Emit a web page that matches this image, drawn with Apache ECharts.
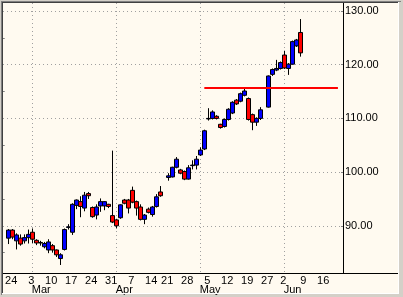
<!DOCTYPE html>
<html><head><meta charset="utf-8">
<script src="https://cdn.jsdelivr.net/npm/echarts@6/dist/echarts.min.js"></script>
<style>html,body{margin:0;padding:0;background:#d4d0c8;}#c{width:403px;height:297px;}</style>
</head><body><div id="c"></div>
<script>
// Trading days on the axis (2003), month-day
const tradingDays = [
 '02-20','02-21','02-24','02-25','02-26','02-27','02-28',
 '03-03','03-04','03-05','03-06','03-07','03-10','03-11','03-12','03-13','03-14',
 '03-17','03-18','03-19','03-20','03-21','03-24','03-25','03-26','03-27','03-28','03-31',
 '04-01','04-02','04-03','04-04','04-07','04-08','04-09','04-10','04-11',
 '04-14','04-15','04-16','04-17','04-21','04-22','04-23','04-24','04-25','04-28','04-29','04-30',
 '05-01','05-02','05-05','05-06','05-07','05-08','05-09','05-12','05-13','05-14','05-15','05-16',
 '05-19','05-20','05-21','05-22','05-23','05-27','05-28','05-29','05-30',
 '06-02','06-03','06-04','06-05','06-06','06-09','06-10','06-11','06-12','06-13',
 '06-16','06-17','06-18','06-19','06-20'
];
// Daily candles
const candleDays = [
 '02-21','02-24','02-25','02-26','02-27','02-28',
 '03-03','03-04','03-05','03-06','03-07','03-10','03-11','03-12','03-13','03-14',
 '03-17','03-18','03-19','03-20','03-21','03-24','03-25','03-26','03-27','03-28','03-31',
 '04-01','04-02','04-03','04-04','04-07','04-08','04-09','04-10','04-11',
 '04-14','04-15','04-16','04-21','04-22','04-23','04-24','04-25','04-28','04-29','04-30',
 '05-01','05-02','05-05','05-06','05-07','05-08','05-09','05-12','05-13','05-14','05-15','05-16',
 '05-19','05-20','05-21','05-22','05-27','05-28','05-29','05-30',
 '06-02','06-03','06-04','06-05','06-06'
];
const opens = [
 87.7,89.2,87.2,87.7,87.2,87.8,
 88.8,87.3,86.9,86.1,85.5,86.3,85.5,83.9,85.6,89.7,
 88.8,93.8,94.5,93.3,96.0,93.4,92.0,93.7,93.7,94.0,91.9,
 91.1,91.5,94.8,94.8,96.6,94.5,93.5,91.2,93.1,
 92.1,93.6,96.3,99.0,99.1,100.9,100.4,100.1,98.7,101.2,101.3,
 103.2,104.3,109.9,110.0,110.4,108.9,108.5,109.8,111.0,113.4,113.2,114.3,
 113.7,110.7,109.3,110.0,112.1,118.2,119.0,119.3,
 121.8,119.3,120.1,123.5,126.0
];
const closes = [
 89.2,87.9,88.3,86.6,87.8,88.4,
 87.5,86.8,86.8,86.7,87.0,85.5,84.6,84.6,89.3,89.8,
 94.0,94.8,93.6,95.7,95.6,91.7,93.5,94.5,94.5,93.6,90.7,
 90.0,93.9,94.2,93.3,94.4,93.3,91.2,92.0,92.5,
 93.5,95.4,95.6,99.3,100.9,102.4,99.8,98.7,100.8,101.3,102.4,
 104.1,107.7,110.0,111.2,110.0,108.3,109.8,111.7,113.0,112.7,114.6,115.1,
 109.8,109.3,110.0,111.6,117.9,119.1,119.3,120.4,
 119.4,120.1,124.3,124.6,122.2
];
const lows = [
 86.6,87.5,85.6,86.3,86.7,86.7,
 86.8,86.4,86.3,85.8,84.9,85.0,84.2,82.7,85.4,89.3,
 88.3,93.1,91.6,92.7,95.0,91.5,91.2,92.6,92.9,93.3,90.5,
 89.5,91.3,94.0,92.3,94.2,91.9,91.0,90.3,92.3,
 91.7,93.4,95.4,98.4,99.0,100.7,99.6,98.5,98.6,100.5,100.5,
 103.0,104.1,109.6,109.8,109.8,108.1,108.3,109.6,110.8,112.5,113.0,114.1,
 109.6,107.8,108.6,109.7,112.0,117.9,118.8,119.1,
 119.2,118.1,120.0,123.3,121.5
];
const highs = [
 89.4,89.4,88.6,88.4,88.4,89.3,
 89.5,87.5,87.2,87.0,87.5,86.6,85.6,84.9,89.5,90.3,
 94.2,94.9,95.5,96.3,96.3,93.6,94.0,95.1,94.6,94.1,104.0,
 91.3,94.0,95.0,95.0,97.3,94.7,94.0,92.2,93.4,
 93.7,95.9,97.4,99.8,101.0,102.8,100.6,100.3,101.3,102.2,103.0,
 104.6,107.9,111.9,111.5,110.6,109.0,110.0,111.9,113.2,113.6,114.8,115.6,
 113.9,110.9,110.2,112.1,118.0,119.3,120.9,120.6,
 122.6,120.3,124.5,124.8,128.5
];
// Horizontal resistance line
const resistanceLevel = 115.65;
const resistanceFrom = '05-01', resistanceFromOffset = 0.9;
const resistanceTo = '06-19', resistanceToOffset = 0.3;
// Axis labels
const weekLabelDays = ['02-24','03-03','03-10','03-17','03-24','03-31','04-07','04-14','04-21','04-28',
  '05-05','05-12','05-19','05-27','06-02','06-09','06-16'];
const monthStartDays = ['03-03','04-01','05-01','06-02'];
const monthNames = ['Mar','Apr','May','Jun'];
const yMajorTicks = [90,100,110,120,130];
const yMinorTicks = [85,95,105,115,125];

const idx = d => tradingDays.indexOf(d);
const candleData = candleDays.map((d,i)=>[idx(d), opens[i], closes[i], lows[i], highs[i]]);
const weekIdx = weekLabelDays.map(idx);
const monthIdx = monthStartDays.map(idx);
const xMin = -0.43, xMax = 84.57;
const yMin = 81.21, yMax = 131.49;
const font = {fontFamily:'Liberation Sans', fontSize:11, color:'#000'};
const gridColor = '#a0a0a0';

const chart = echarts.init(document.getElementById('c'));
chart.setOption({
  animation:false,
  backgroundColor:'#d4d0c8',
  grid:{left:3, right:60, top:3, bottom:24},
  xAxis:[{
    type:'value', min:xMin, max:xMax, position:'bottom',
    axisLine:{show:true, onZero:false, lineStyle:{color:'#000', width:1}},
    axisTick:{show:false, customValues:monthIdx},
    splitLine:{show:true, lineStyle:{color:gridColor, type:[1,3], width:1}},
    axisLabel:{customValues:weekIdx, margin:2, ...font, padding:[0,3,0,0],
      formatter:v=>String(parseInt(tradingDays[Math.round(v)].split('-')[1],10))}
  },{
    type:'value', min:xMin, max:xMax, position:'bottom',
    axisLine:{show:false}, axisTick:{show:false}, splitLine:{show:false},
    axisLabel:{customValues:monthIdx, margin:11, ...font, align:'left', padding:[0,0,0,-1],
      formatter:v=>monthNames[monthIdx.indexOf(Math.round(v))]}
  }],
  yAxis:[{
    type:'value', min:yMin, max:yMax, position:'right',
    axisLine:{show:true, onZero:false, lineStyle:{color:'#000', width:1}},
    axisTick:{show:true, inside:true, length:2, customValues:yMajorTicks, lineStyle:{color:'#808080'}},
    splitLine:{show:true, lineStyle:{color:gridColor, type:[1,3], width:1}},
    axisLabel:{customValues:yMajorTicks, margin:2, ...font, formatter:v=>v.toFixed(2)}
  },{
    type:'value', min:yMin, max:yMax, position:'right',
    axisLine:{show:false},
    axisTick:{show:true, inside:true, length:2, customValues:yMinorTicks, lineStyle:{color:'#808080'}},
    splitLine:{show:false},
    axisLabel:{show:false}
  }],
  series:[{
    type:'candlestick', xAxisIndex:0, yAxisIndex:0,
    data:candleData, encode:{x:0, y:[1,2,3,4]},
    barWidth:4,
    itemStyle:{color:'#0000ff', color0:'#ff0000', borderColor:'#000', borderColor0:'#000', borderColorDoji:'#000', borderWidth:1}
  },{
    type:'line', xAxisIndex:0, yAxisIndex:0, z:5, symbol:'none', silent:true,
    data:[[idx(resistanceFrom)+resistanceFromOffset, resistanceLevel],[idx(resistanceTo)+resistanceToOffset, resistanceLevel]],
    lineStyle:{color:'#ff0000', width:2}
  }],
  graphic:[
    {type:'rect', z:-10, shape:{x:3,y:3,width:395,height:290}, style:{fill:'#fffaf0'}},
    {type:'line', z:100, shape:{x1:1,y1:1.5,x2:401,y2:1.5}, style:{stroke:'#808080',lineWidth:1}},
    {type:'line', z:100, shape:{x1:1.5,y1:1,x2:1.5,y2:295}, style:{stroke:'#808080',lineWidth:1}},
    {type:'line', z:100, shape:{x1:2,y1:2.5,x2:399,y2:2.5}, style:{stroke:'#404040',lineWidth:1}},
    {type:'line', z:100, shape:{x1:2.5,y1:2,x2:2.5,y2:294}, style:{stroke:'#404040',lineWidth:1}},
    {type:'line', z:100, shape:{x1:2,y1:293.5,x2:399,y2:293.5}, style:{stroke:'#ffffff',lineWidth:1}},
    {type:'line', z:100, shape:{x1:398.5,y1:2,x2:398.5,y2:294}, style:{stroke:'#ffffff',lineWidth:1}},
    {type:'line', z:50, shape:{x1:343,y1:273.5,x2:398,y2:273.5}, style:{stroke:'#000',lineWidth:1}}
  ]
});
</script></body></html>
